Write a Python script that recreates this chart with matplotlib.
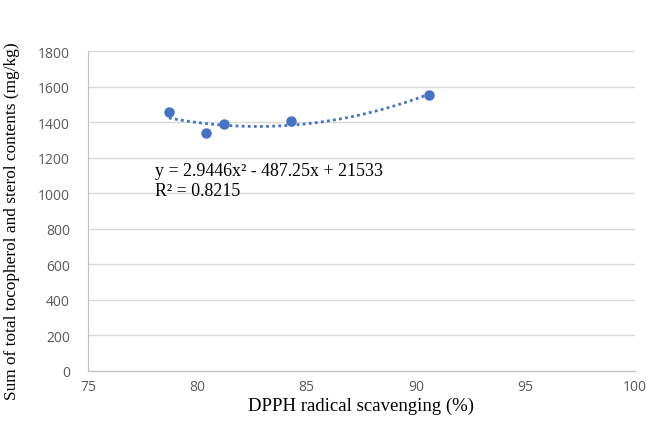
import numpy as np
import matplotlib.pyplot as plt

dpph = [78.7, 80.4, 81.2, 84.3, 90.6]
total = [1460, 1340, 1390, 1405, 1555]
coef = [2.9446, -487.25, 21533]  # trendline from the chart's equation
eq_text = "y = 2.9446x² - 487.25x + 21533\nR² = 0.8215"

blue = '#4472C4'
grey = '#595959'

fig = plt.figure(figsize=(6.47, 4.35), dpi=100)
ax = fig.add_axes([0.136, 0.145, 0.845, 0.735])

x_fit = np.linspace(min(dpph), max(dpph), 100)
ax.plot(x_fit, np.polyval(coef, x_fit), color=blue, linestyle=(0, (1, 1.2)), linewidth=2)
ax.plot(dpph, total, 'o', color=blue, markersize=6.5, zorder=3)

ax.set_xlim(75, 100)
ax.set_ylim(0, 1800)
ax.set_xticks(np.arange(75, 101, 5))
ax.set_yticks(np.arange(0, 1801, 200))
ax.grid(axis='y', color='#D9D9D9', linewidth=1)
ax.set_axisbelow(True)

for s in ['top', 'right']:
    ax.spines[s].set_visible(False)
for s in ['left', 'bottom']:
    ax.spines[s].set_color('#BFBFBF')
ax.tick_params(length=0, labelsize=10, labelcolor=grey)
ax.tick_params(axis='y', pad=13)
ax.tick_params(axis='x', pad=6)
for lab in ax.get_xticklabels() + ax.get_yticklabels():
    lab.set_family('Open Sans')

ax.set_xlabel('DPPH radical scavenging (%)', family='Liberation Serif', fontsize=13.5, labelpad=2)
ax.set_ylabel('Sum of total tocopherol and sterol contents (mg/kg)', family='Liberation Serif',
              fontsize=12.4, labelpad=10)
ax.yaxis.set_label_coords(-0.125, 0.47)
ax.text(78.05, 1175, eq_text, family='Liberation Serif', fontsize=12.9, va='top', linespacing=1.2)

fig.savefig('out.png', dpi=100)
